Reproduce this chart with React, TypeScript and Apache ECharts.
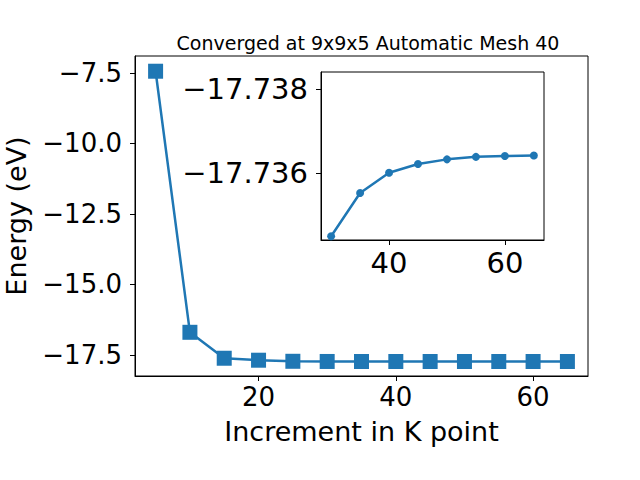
import React, { useEffect, useRef } from "react";
import * as echarts from "echarts";

const kpoints = [5, 10, 15, 20, 25, 30, 35, 40, 45, 50, 55, 60, 65];
const energies = [-7.44, -16.70, -17.62, -17.69, -17.728, -17.73449, -17.73552, -17.736, -17.73621, -17.73632, -17.73638, -17.7364, -17.73641];
const insetK = [30, 35, 40, 45, 50, 55, 60, 65];
const insetEnergies = [-17.73449, -17.73552, -17.736, -17.73621, -17.73632, -17.73638, -17.7364, -17.73641];
const mainXTicks = [20, 40, 60];
const mainYTicks = [-17.5, -15.0, -12.5, -10.0, -7.5];
const insetXTicks = [40, 60];
const insetYTicks = [-17.738, -17.736];
const title = "Converged at 9x9x5 Automatic Mesh 40";
const xName = "Increment in K point";
const yName = "Energy (eV)";

const FONT = "DejaVu Sans";
const BLUE = "#1f77b4";

const fmt = (v: number, d: number) => {
  const s = Math.abs(v).toFixed(d);
  return v < 0 ? "\u2212" + s : s;
};

export default function App() {
  const ref = useRef<HTMLDivElement>(null);
  useEffect(() => {
    if (!ref.current) return;
    const chart = echarts.init(ref.current, undefined, { renderer: "svg" });
    const axisCommon = {
      axisLine: { show: true, lineStyle: { color: "#000", width: 1 } },
      axisTick: { show: true, length: 5, lineStyle: { color: "#000", width: 1 } },
      splitLine: { show: false },
    };
    chart.setOption({
      animation: false,
      backgroundColor: "#fff",
      title: {
        text: title,
        left: 363,
        top: 28,
        textAlign: "center",
        textStyle: { fontFamily: FONT, fontSize: 19, fontWeight: "normal", color: "#000" },
      },
      grid: [
        { left: 135, right: 52, top: 56, bottom: 104, show: true, borderColor: "#000", borderWidth: 1, backgroundColor: "transparent", outerBoundsMode: "none", containLabel: false },
        { left: 321, right: 96, top: 72, bottom: 240, show: true, borderColor: "#000", borderWidth: 1, backgroundColor: "#fff", outerBoundsMode: "none", containLabel: false },
      ],
      xAxis: [
        {
          ...axisCommon,
          gridIndex: 0,
          type: "value",
          min: 2,
          max: 68,
          name: xName,
          nameLocation: "middle",
          nameGap: 42,
          nameTextStyle: { fontFamily: FONT, fontSize: 27, color: "#000", verticalAlign: "top" },
          axisTick: { ...axisCommon.axisTick, customValues: mainXTicks },
          axisLabel: { customValues: mainXTicks, fontFamily: FONT, fontSize: 26, color: "#000", margin: 8, formatter: (v: number) => String(v) },
        },
        {
          ...axisCommon,
          gridIndex: 1,
          type: "value",
          min: 28.25,
          max: 66.75,
          axisTick: { ...axisCommon.axisTick, customValues: insetXTicks },
          axisLabel: { customValues: insetXTicks, fontFamily: FONT, fontSize: 29, color: "#000", margin: 8, formatter: (v: number) => String(v) },
        },
      ],
      yAxis: [
        {
          ...axisCommon,
          gridIndex: 0,
          type: "value",
          min: -18.25,
          max: -6.9,
          name: yName,
          nameLocation: "middle",
          nameGap: 105,
          nameTextStyle: { fontFamily: FONT, fontSize: 27, color: "#000" },
          axisTick: { ...axisCommon.axisTick, customValues: mainYTicks },
          axisLabel: { customValues: mainYTicks, fontFamily: FONT, fontSize: 26, color: "#000", margin: 13, formatter: (v: number) => fmt(v, 1) },
        },
        {
          ...axisCommon,
          gridIndex: 1,
          type: "value",
          inverse: true,
          min: -17.7384,
          max: -17.7344,
          axisTick: { ...axisCommon.axisTick, customValues: insetYTicks },
          axisLabel: { customValues: insetYTicks, fontFamily: FONT, fontSize: 29, color: "#000", margin: 13, formatter: (v: number) => fmt(v, 3) },
        },
      ],
      series: [
        {
          type: "line",
          xAxisIndex: 0,
          yAxisIndex: 0,
          data: kpoints.map((k, i) => [k, energies[i]]),
          symbol: "rect",
          symbolSize: 15,
          lineStyle: { color: BLUE, width: 2.5 },
          itemStyle: { color: BLUE },
          z: 2,
        },
        {
          type: "line",
          xAxisIndex: 1,
          yAxisIndex: 1,
          data: insetK.map((k, i) => [k, insetEnergies[i]]),
          symbol: "circle",
          symbolSize: 8,
          lineStyle: { color: BLUE, width: 2.5 },
          itemStyle: { color: BLUE },
          z: 3,
        },
      ],
    });
    return () => chart.dispose();
  }, []);
  return <div ref={ref} style={{ width: 640, height: 480, position: "absolute", left: 0, top: 0 }} />;
}
